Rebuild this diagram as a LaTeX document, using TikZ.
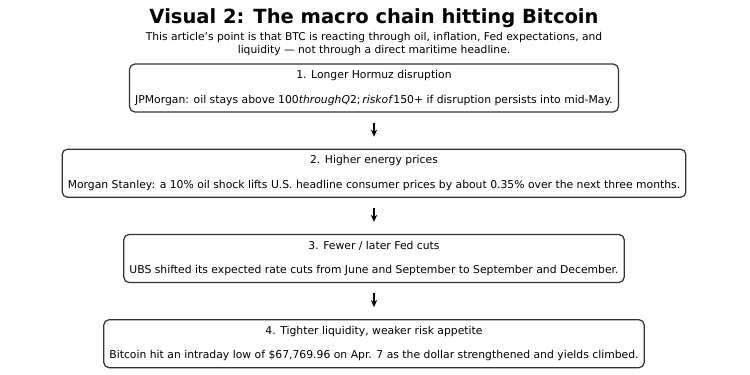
\documentclass[tikz,border=0pt]{standalone}
\usepackage{fontspec}
\setmainfont{DejaVu Sans}
\usepackage{xcolor}
\usepackage{tikz}
\usetikzlibrary{arrows.meta, positioning}

\definecolor{boxline}{HTML}{333333}

\begin{document}
\begin{tikzpicture}[
  node distance=0.72cm,
  stage/.style={rectangle, draw=boxline, line width=0.7pt, rounded corners=3pt, fill=white,
    minimum height=0.96cm, inner xsep=3.2pt, align=center, font=\fontsize{6.15}{7}\selectfont},
  flow/.style={draw, line width=0.7pt, -{Stealth[length=4pt,width=3.6pt]}, shorten <=0.2cm, shorten >=0.24cm}
  ]
\useasboundingbox (0,0) rectangle (15,-7.5);

% Heading
\node[font=\fontsize{11.1}{13}\bfseries] (title) at (7.48,-0.37) {Visual 2: The macro chain hitting Bitcoin};
\node[align=center, font=\fontsize{6.1}{7.4}\selectfont] (sub) at (7.48,-0.89)
  {This article's point is that BTC is reacting through oil, inflation, Fed expectations, and\\
   liquidity --- not through a direct maritime headline.};

% Chain
\node[stage] (hormuz) at (7.48,-1.76) {1. Longer Hormuz disruption\\[7pt]
  JPMorgan: oil stays above 100\textit{throughQ}2;\,\textit{riskof}150+ if disruption persists into mid-May.};
\node[stage, below=of hormuz] (energy) {2. Higher energy prices\\[7pt]
  Morgan Stanley: a 10\% oil shock lifts U.S. headline consumer prices by about 0.35\% over the next three months.};
\node[stage, below=of energy] (fed) {3. Fewer / later Fed cuts\\[7pt]
  UBS shifted its expected rate cuts from June and September to September and December.};
\node[stage, below=of fed] (liquidity) {4. Tighter liquidity, weaker risk appetite\\[7pt]
  Bitcoin hit an intraday low of \$67,769.96 on Apr. 7 as the dollar strengthened and yields climbed.};

% Arrows
\path[flow] (hormuz) -- (energy);
\path[flow] (energy) -- (fed);
\path[flow] (fed) -- (liquidity);

\end{tikzpicture}
\end{document}
